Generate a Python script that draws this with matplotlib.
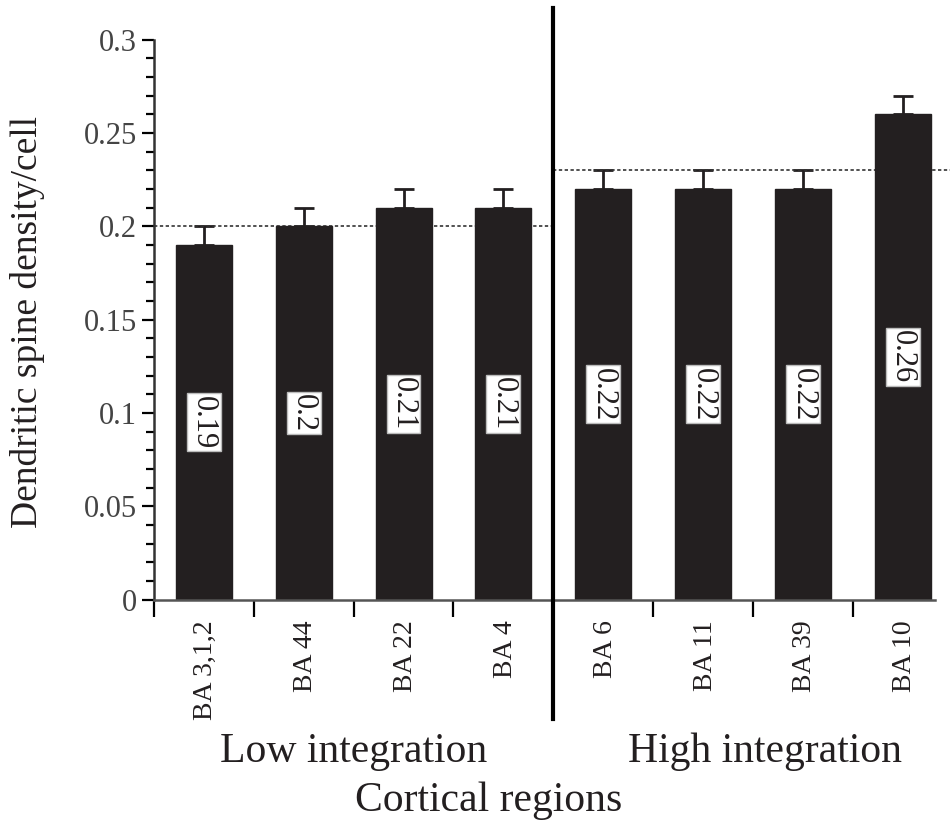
import matplotlib
matplotlib.use("Agg")
import matplotlib.pyplot as plt
import numpy as np
from matplotlib.ticker import MultipleLocator

categories = ["BA 3,1,2", "BA 44", "BA 22", "BA 4", "BA 6", "BA 11", "BA 39", "BA 10"]
values = [0.19, 0.20, 0.21, 0.21, 0.22, 0.22, 0.22, 0.26]
errors = [0.01, 0.01, 0.01, 0.01, 0.01, 0.01, 0.01, 0.01]
value_labels = ["0.19", "0.2", "0.21", "0.21", "0.22", "0.22", "0.22", "0.26"]
group_names = ["Low integration", "High integration"]
group_means = [0.20, 0.23]
yticks = [0, 0.05, 0.1, 0.15, 0.2, 0.25, 0.3]
ytick_labels = ["0", "0.05", "0.1", "0.15", "0.2", "0.25", "0.3"]

plt.rcParams['font.family'] = ['Liberation Serif', 'DejaVu Serif']

fig = plt.figure(figsize=(9.5, 8.25), dpi=100)
ax = fig.add_axes([0.162, 0.273, 0.822, 0.679])

x = np.arange(len(categories))
ax.bar(x, values, width=0.56, color='#231f20', edgecolor='#231f20', zorder=2)
ax.errorbar(x, values, yerr=[np.zeros(len(errors)), errors], fmt='none',
            ecolor='#231f20', elinewidth=2, capsize=7, capthick=2, zorder=1)

for xi, v, lab in zip(x, values, value_labels):
    ax.text(xi, v / 2, lab, rotation=270, ha='center', va='center', fontsize=22,
            color='#231f20', zorder=4,
            bbox=dict(boxstyle='square,pad=0.08', facecolor='white', edgecolor='#bbbbbb', linewidth=1))

# group mean dashed lines
ax.plot([-0.5, 3.5], [group_means[0], group_means[0]], linestyle=(0, (2, 1.5)), color='#333333', lw=1.2, zorder=1)
ax.plot([3.5, 7.5], [group_means[1], group_means[1]], linestyle=(0, (2, 1.5)), color='#333333', lw=1.2, zorder=1,
        clip_on=False)

# divider line
ax.plot([3.5, 3.5], [-0.064, 0.317], color='black', lw=3, clip_on=False, zorder=5)

ax.set_xlim(-0.5, 7.32)
ax.set_ylim(0, 0.3)
ax.set_yticks(yticks)
ax.set_yticklabels(ytick_labels, fontsize=22, color='#444444')
ax.yaxis.set_minor_locator(MultipleLocator(0.01))
ax.tick_params(axis='y', which='major', length=9, width=1.6, direction='out', pad=3)
ax.tick_params(axis='y', which='minor', length=6, width=1.6, direction='out')

ax.set_xticks(np.arange(-0.5, 7, 1.0))
ax.set_xticklabels([])
ax.tick_params(axis='x', which='major', length=12, width=1.6, direction='out')
for xi, c in zip(x, categories):
    ax.text(xi + 0.02, -0.011, c, rotation=90, ha='center', va='top', fontsize=20, color='#231f20')

for sp in ['top', 'right']:
    ax.spines[sp].set_visible(False)
ax.spines['left'].set_linewidth(1.8)
ax.spines['bottom'].set_linewidth(1.8)
ax.spines['left'].set_color('#333333')
ax.spines['bottom'].set_color('#555555')

fig.text(28 / 950, 1 - 322 / 825, "Dendritic spine density/cell", rotation=90, ha='center', va='center',
         fontsize=27, color='#231f20')

fig.text(354 / 950, 1 - 762 / 825, group_names[0], ha='center', va='baseline', fontsize=30, color='#231f20')
fig.text(765 / 950, 1 - 762 / 825, group_names[1], ha='center', va='baseline', fontsize=30, color='#231f20')
fig.text(489 / 950, 1 - 811 / 825, "Cortical regions", ha='center', va='baseline', fontsize=30, color='#231f20')

fig.savefig("out.png", dpi=100)
